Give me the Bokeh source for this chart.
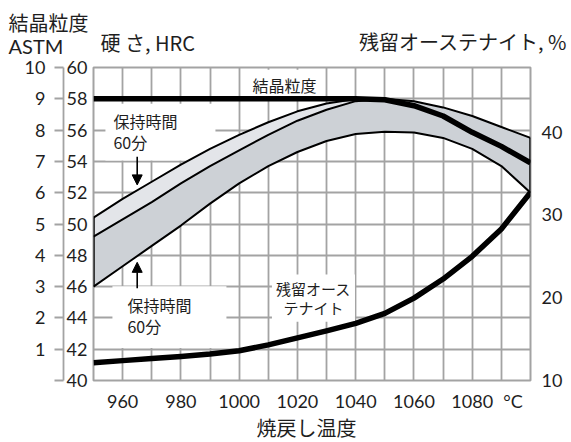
from bokeh.plotting import figure
from bokeh.layouts import column
from bokeh.models import Range1d, LinearAxis, FixedTicker, Label, Arrow, NormalHead
from bokeh.embed import file_html
from bokeh.resources import INLINE

# ---------------- data ----------------
temps = [950, 960, 970, 980, 990, 1000, 1010, 1020, 1030, 1040, 1050, 1060, 1070, 1080, 1090, 1100]
hrc_upper = [50.4, 51.6, 52.7, 53.8, 54.8, 55.7, 56.5, 57.2, 57.7, 57.98, 58.0, 57.85, 57.45, 56.9, 56.2, 55.5]
hrc_lower = [46.0, 47.3, 48.6, 49.9, 51.3, 52.6, 53.7, 54.6, 55.3, 55.75, 55.9, 55.85, 55.5, 54.8, 53.7, 52.0]
mid_temps = [950, 960, 970, 980, 990, 1000, 1010, 1020, 1030, 1040, 1050]
hrc_middle = [49.2, 50.3, 51.4, 52.6, 53.7, 54.7, 55.7, 56.6, 57.3, 57.85, 58.0]
grain_size = [9, 9, 9, 9, 9, 9, 9, 9, 9, 9, 8.97, 8.78, 8.45, 7.93, 7.48, 6.95]
austenite = [12.15, 12.4, 12.65, 12.9, 13.2, 13.6, 14.3, 15.15, 16.0, 16.9, 18.1, 19.95, 22.25, 25.0, 28.3, 32.7]

x_ticks = [960, 980, 1000, 1020, 1040, 1060, 1080]
unit_tick = 1094
hrc_ticks = [40, 42, 44, 46, 48, 50, 52, 54, 56, 58, 60]
grain_ticks = [0, 1, 2, 3, 4, 5, 6, 7, 8, 9, 10]
aust_ticks = [10, 20, 30, 40]
x_grid = [950, 960, 970, 980, 990, 1000, 1010, 1020, 1030, 1040, 1050, 1060, 1070, 1080, 1090, 1100]

arrow_temp = 965
arrow_top = (54.3, 52.5)
arrow_bottom = (45.9, 47.55)

# ---------------- styling ----------------
GRID = "#a3a3a3"
TXT = "#1e1e1e"
JP = "Noto Sans CJK JP"
NUM = "Lato"
BAND = "#cdd1d6"
BAND_LIGHT = "#e3e5e9"
W = 571


def text_strip(height):
    f = figure(width=W, height=height, x_range=Range1d(0, 1), y_range=Range1d(0, 1),
               output_backend="svg", toolbar_location=None, title=None, min_border=0,
               x_axis_location=None, y_axis_location=None, frame_align=False)
    f.grid.visible = False
    f.outline_line_color = None
    f.background_fill_color = "white"
    f.border_fill_color = "white"
    return f


def strip_label(fig, text, x, y, align, font, size):
    fig.add_layout(Label(x=x, y=y, x_units="screen", y_units="screen", text=text,
                         text_align=align, text_baseline="middle", text_font=font,
                         text_font_size=size, text_color=TXT))

# ---------------- header (axis titles) ----------------
HEAD_H = 57
head = text_strip(HEAD_H)
strip_label(head, "結晶粒度", 8, HEAD_H - 22, "left", JP, "20px")
strip_label(head, "ASTM", 8, HEAD_H - 45, "left", NUM, "20px")
strip_label(head, "硬 さ, HRC", 100, HEAD_H - 42, "left", JP, "20px")
strip_label(head, "残留オーステナイト, %", 567, HEAD_H - 41, "right", JP, "20px")

# ---------------- main chart ----------------
p = figure(width=W, height=357, x_range=Range1d(950, 1100), y_range=Range1d(40, 60),
           output_backend="svg", toolbar_location=None, title=None, frame_align=False,
           min_border_left=93, min_border_right=41, min_border_top=10, min_border_bottom=32)
p.background_fill_color = "white"
p.border_fill_color = "white"
p.outline_line_color = GRID
p.outline_line_width = 2

p.extra_y_ranges = {"grain": Range1d(0, 10), "aust": Range1d(10, 47.8)}

p.xgrid.ticker = FixedTicker(ticks=x_grid)
p.ygrid.ticker = FixedTicker(ticks=hrc_ticks)
for g in (p.xgrid, p.ygrid):
    g.grid_line_color = GRID
    g.grid_line_width = 1.8

xa = p.xaxis[0]
xa.ticker = FixedTicker(ticks=x_ticks + [unit_tick])
xa.major_label_overrides = {unit_tick: "°C"}
xa.axis_line_color = None
xa.major_tick_line_color = None
xa.minor_tick_line_color = None
xa.major_tick_out = 0
xa.major_tick_in = 0
xa.major_label_standoff = 9
xa.major_label_text_font = NUM
xa.major_label_text_font_size = "18px"
xa.major_label_text_color = TXT

ya = p.yaxis[0]
ya.ticker = FixedTicker(ticks=hrc_ticks)
ya.axis_line_color = None
ya.major_tick_line_color = None
ya.minor_tick_line_color = None
ya.major_tick_out = 0
ya.major_tick_in = 0
ya.major_label_standoff = 6
ya.major_label_text_font = NUM
ya.major_label_text_font_size = "18px"
ya.major_label_text_color = TXT

spacer = LinearAxis(ticker=FixedTicker(ticks=[]), axis_line_color=None,
                    major_tick_out=16, major_tick_in=0, minor_tick_out=0, minor_tick_in=0,
                    major_label_standoff=0, major_label_text_font_size="1px")
p.add_layout(spacer, "left")

ga = LinearAxis(y_range_name="grain", ticker=FixedTicker(ticks=grain_ticks),
                major_label_overrides={0: ""})
ga.axis_line_color = GRID
ga.axis_line_width = 1.8
ga.major_tick_line_color = GRID
ga.major_tick_line_width = 1.8
ga.major_tick_out = 9
ga.major_tick_in = 0
ga.minor_tick_line_color = None
ga.major_label_standoff = 9
ga.major_label_text_font = NUM
ga.major_label_text_font_size = "18px"
ga.major_label_text_color = TXT
p.add_layout(ga, "left")

ra = LinearAxis(y_range_name="aust", ticker=FixedTicker(ticks=aust_ticks))
ra.axis_line_color = None
ra.major_tick_line_color = None
ra.minor_tick_line_color = None
ra.major_tick_out = 0
ra.major_tick_in = 0
ra.major_label_standoff = 11
ra.major_label_text_font = NUM
ra.major_label_text_font_size = "18px"
ra.major_label_text_color = TXT
p.add_layout(ra, "right")

# band
p.varea(x=temps, y1=hrc_lower, y2=hrc_upper, fill_color=BAND)
p.varea(x=mid_temps, y1=hrc_middle, y2=hrc_upper[:len(mid_temps)], fill_color=BAND_LIGHT)
p.line(temps, hrc_upper, line_color="black", line_width=2, line_join="round")
p.line(mid_temps, hrc_middle, line_color="black", line_width=2, line_join="round")
p.line(temps, hrc_lower, line_color="black", line_width=2, line_join="round")
p.segment(x0=[temps[0], temps[-1]], y0=[hrc_lower[0], hrc_lower[-1]],
          x1=[temps[0], temps[-1]], y1=[hrc_upper[0], hrc_upper[-1]],
          line_color="black", line_width=2.5)

p.line(temps, grain_size, y_range_name="grain", line_color="black", line_width=5.5, line_join="round")
p.line(temps, austenite, y_range_name="aust", line_color="black", line_width=5.5, line_join="round")

for (ys, ye) in (arrow_top, arrow_bottom):
    p.add_layout(Arrow(end=NormalHead(size=10, fill_color="black", line_color="black", line_width=1),
                       x_start=arrow_temp, y_start=ys, x_end=arrow_temp, y_end=ye,
                       line_color="black", line_width=1.6))

def box_label(text, x, y, align, size, pad):
    p.add_layout(Label(x=x, y=y, text=text, text_align=align, text_baseline="middle",
                       text_font=JP, text_font_size=size, text_color=TXT,
                       background_fill_color="white", padding=pad, level="underlay",
                       text_line_height=0.87))

box_label("結晶粒度", 1015.6, 58.9, "center", "16px", 3)
box_label("保持時間\n60分", 954.1, 55.87, "left", "16px", dict(left=8, right=38, top=5, bottom=7))
box_label("保持時間\n60分", 956.5, 44.05, "left", "16px", dict(left=15, right=35, top=7, bottom=10))
box_label("残留オース\nテナイト", 1025.5, 45.27, "center", "15px", 4)

# ---------------- footer (x-axis title) ----------------
FOOT_H = 28
foot = text_strip(FOOT_H)
strip_label(foot, "焼戻し温度", 306, 15, "center", JP, "20px")

layout = column(head, p, foot, spacing=0)
open("out.html", "w").write(file_html(layout, INLINE))
